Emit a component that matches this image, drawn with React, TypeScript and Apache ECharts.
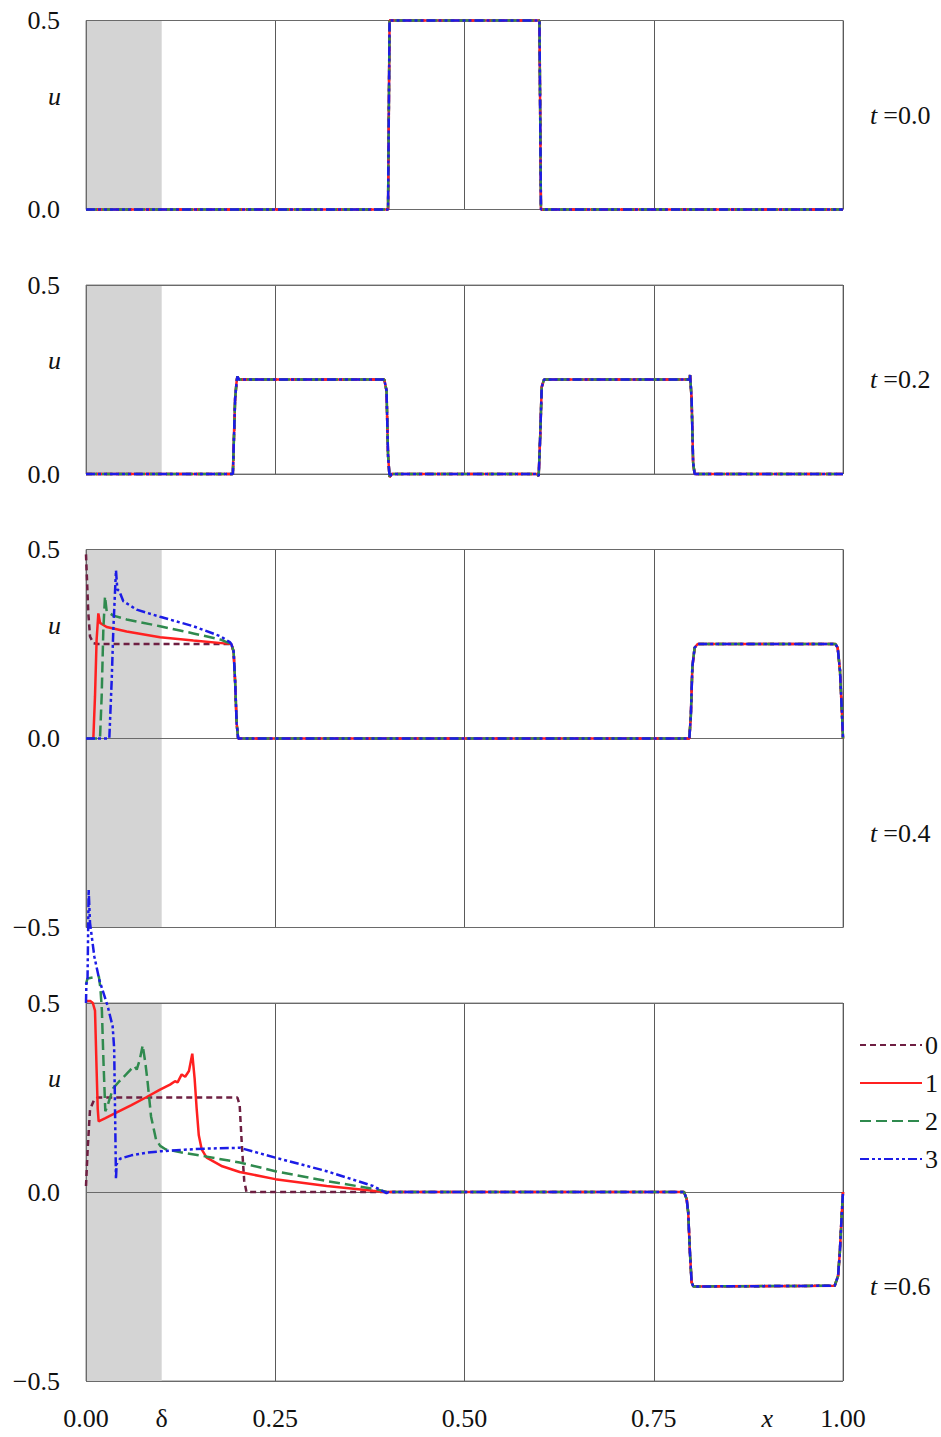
import React, { useEffect, useRef } from 'react';
import * as echarts from 'echarts';

type Pt = [number, number];

// ---------- labels / ticks ----------
const seriesNames = ['0', '1', '2', '3'];
const seriesColors = ['#6e1f42', '#ff2020', '#2f8a4e', '#1c1ce6'];
const seriesDashes: any[] = [[6, 4], 'solid', [11, 5], [9, 3, 3, 3, 3, 3]];

const timeLabels = ['0.0', '0.2', '0.4', '0.6'];
const xTickValues = [0, 0.1, 0.25, 0.5, 0.75, 0.9, 1.0];
const xTickLabels = ['0.00', 'δ', '0.25', '0.50', '0.75', 'x', '1.00'];
const deltaValue = 0.1;
const uLevel = 0.3;
const tLevels = [0.25, 0.25, -0.25, -0.25];
const yRanges: [number, number][] = [[0, 0.5], [0, 0.5], [-0.5, 0.5], [-0.5, 0.5]];
const yTickValues = [[0, 0.5], [0, 0.5], [-0.5, 0, 0.5], [-0.5, 0, 0.5]];
const yTickLabels = [['0.0', '0.5'], ['0.0', '0.5'], ['−0.5', '0.0', '0.5'], ['−0.5', '0.0', '0.5']];

// ---------- data ----------
// t = 0.0 (all schemes identical)
const t00: Pt[] = [[0, 0], [0.399, 0], [0.401, 0.5], [0.599, 0.5], [0.601, 0], [1, 0]];

// t = 0.2 (all schemes identical)
const t02: Pt[] = [
  [0, 0], [0.194, 0], [0.197, 0.2], [0.199, 0.245], [0.2, 0.258], [0.202, 0.25],
  [0.394, 0.25], [0.397, 0.22], [0.399, 0.05], [0.401, -0.008], [0.404, 0],
  [0.596, 0], [0.598, -0.005], [0.6, 0.1], [0.602, 0.23], [0.605, 0.25],
  [0.797, 0.25], [0.798, 0.262], [0.8, 0.2], [0.802, 0.03], [0.804, 0], [1, 0],
];

// t = 0.4
const t04Tail: Pt[] = [
  [0.192, 0.25], [0.195, 0.23], [0.197, 0.15], [0.199, 0.04], [0.201, 0],
  [0.797, 0], [0.799, 0.06], [0.801, 0.19], [0.804, 0.24], [0.808, 0.25],
  [0.99, 0.25], [0.993, 0.24], [0.996, 0.18], [0.999, 0.05], [1, 0],
];
const t04S0: Pt[] = [[0, 0.487], [0.003, 0.333], [0.0053, 0.27], [0.0097, 0.252], [0.015, 0.25]];
const t04S1: Pt[] = [
  [0, 0], [0.0097, 0], [0.0119, 0.112], [0.014, 0.26], [0.0163, 0.331], [0.0185, 0.306],
  [0.0273, 0.295], [0.0537, 0.283], [0.0978, 0.268], [0.1418, 0.259], [0.186, 0.251],
];
const t04S2: Pt[] = [
  [0, 0], [0.0185, 0], [0.0207, 0.112], [0.0229, 0.288], [0.0251, 0.376], [0.0273, 0.337],
  [0.0361, 0.325], [0.0537, 0.315], [0.0978, 0.297], [0.1418, 0.278], [0.177, 0.262],
];
const t04S3: Pt[] = [
  [0, 0], [0.0308, 0], [0.034, 0.157], [0.0361, 0.288], [0.0396, 0.445], [0.0414, 0.394],
  [0.044, 0.39], [0.0493, 0.363], [0.0669, 0.341], [0.0978, 0.322], [0.1418, 0.297],
  [0.177, 0.271], [0.19, 0.255],
];

// t = 0.6
const t06Tail: Pt[] = [
  [0.4, 0], [0.79, 0], [0.7935, -0.019], [0.7955, -0.054], [0.7978, -0.16], [0.8, -0.239],
  [0.8023, -0.25], [0.989, -0.248], [0.9935, -0.222], [0.9958, -0.16], [0.998, -0.072], [1, 0],
];
const t06S0: Pt[] = [
  [0, 0.016], [0.0022, 0.113], [0.0053, 0.218], [0.011, 0.245], [0.015, 0.25],
  [0.2, 0.25], [0.203, 0.23], [0.206, 0.12], [0.209, 0.03], [0.212, 0], [0.399, 0],
];
const t06S1: Pt[] = [
  [0, 0.505], [0.006, 0.505], [0.009, 0.5], [0.0119, 0.48], [0.014, 0.324], [0.0155, 0.22],
  [0.0167, 0.187], [0.025, 0.195], [0.04, 0.21], [0.06, 0.23], [0.079, 0.25], [0.0978, 0.271],
  [0.111, 0.284], [0.1176, 0.293], [0.121, 0.29], [0.1264, 0.311], [0.131, 0.305], [0.136, 0.32],
  [0.1404, 0.366], [0.1435, 0.3], [0.1462, 0.22], [0.149, 0.15], [0.1528, 0.113], [0.1594, 0.091],
  [0.18, 0.068], [0.203, 0.053], [0.25, 0.034], [0.318, 0.016], [0.379, 0.003], [0.395, 0],
];
const t06S2: Pt[] = [
  [0, 0.55], [0.002, 0.565], [0.017, 0.57], [0.019, 0.54], [0.021, 0.48], [0.023, 0.35],
  [0.0255, 0.214], [0.028, 0.225], [0.031, 0.245], [0.036, 0.275], [0.044, 0.293], [0.053, 0.311],
  [0.059, 0.324], [0.064, 0.333], [0.067, 0.324], [0.071, 0.35], [0.0749, 0.388], [0.0785, 0.34],
  [0.0815, 0.289], [0.0859, 0.2], [0.0925, 0.139], [0.098, 0.122], [0.105, 0.113], [0.125, 0.105],
  [0.155, 0.095], [0.203, 0.078], [0.25, 0.055], [0.318, 0.029], [0.384, 0.007], [0.398, 0],
];
const t06S3: Pt[] = [
  [0, 0.5], [0.0005, 0.55], [0.002, 0.56], [0.0035, 0.8], [0.0053, 0.712], [0.011, 0.623],
  [0.0176, 0.561], [0.0287, 0.491], [0.0352, 0.438], [0.0372, 0.38], [0.0385, 0.2], [0.0396, 0.034],
  [0.0405, 0.075], [0.045, 0.088], [0.06, 0.097], [0.08, 0.104], [0.1, 0.108], [0.13, 0.112],
  [0.16, 0.115], [0.203, 0.117], [0.25, 0.091], [0.318, 0.055], [0.379, 0.016], [0.397, -0.003],
];

const panelData: Pt[][][] = [
  [t00, t00, t00, t00],
  [t02, t02, t02, t02],
  [t04S0.concat(t04Tail), t04S1.concat(t04Tail), t04S2.concat(t04Tail), t04S3.concat(t04Tail)],
  [t06S0.concat(t06Tail), t06S1.concat(t06Tail), t06S2.concat(t06Tail), t06S3.concat(t06Tail)],
];

// ---------- component ----------
const FONT = '"Liberation Serif", "Times New Roman", serif';
const TEXT = '#111';
const FS = 26;

const pick = (vals: number[], labels: string[]) => (v: number) => {
  const i = vals.findIndex((t) => Math.abs(t - v) < 1e-6);
  return i >= 0 ? labels[i] : '';
};

export default function App() {
  const ref = useRef<HTMLDivElement>(null);

  useEffect(() => {
    if (!ref.current) return;
    const chart = echarts.init(ref.current, undefined, { renderer: 'svg' });

    const layout = [
      { top: 20.5, height: 189 },
      { top: 285, height: 189 },
      { top: 549.5, height: 378 },
      { top: 1003, height: 378 },
    ];
    const left = 86;
    const width = 757;

    const grid = layout.map((l) => ({
      left, width, top: l.top, height: l.height,
      show: true, borderColor: '#858585', borderWidth: 1, backgroundColor: '#fff',
    }));

    const xAxis: any[] = layout.map((_, p) => ({
      type: 'value', gridIndex: p, min: 0, max: 1, interval: 0.25,
      axisLine: { show: false }, axisTick: { show: false }, axisLabel: { show: false },
      splitLine: { show: true, lineStyle: { color: '#5a5a5a', width: 1 } },
    }));
    const xLab = pick(xTickValues, xTickLabels);
    xAxis.push({
      type: 'value', gridIndex: 3, position: 'bottom', min: 0, max: 1, interval: 0.05,
      axisLine: { show: false }, axisTick: { show: false }, splitLine: { show: false },
      axisLabel: {
        show: true, margin: 24, interval: 0, fontFamily: FONT, fontSize: FS, color: TEXT,
        formatter: (v: number) => {
          const s = xLab(v);
          return s === 'x' ? '{it|x}' : s;
        },
        rich: { it: { fontStyle: 'italic', fontFamily: FONT, fontSize: FS, color: TEXT } },
      },
    });

    const yAxis: any[] = [];
    layout.forEach((_, p) => {
      yAxis.push({
        type: 'value', gridIndex: p, position: 'left', min: yRanges[p][0], max: yRanges[p][1], interval: 0.5,
        axisLine: { show: false }, axisTick: { show: false }, splitLine: { show: false },
        axisLabel: {
          margin: 26, fontFamily: FONT, fontSize: FS, color: TEXT,
          formatter: pick(yTickValues[p], yTickLabels[p]),
        },
      });
    });
    layout.forEach((_, p) => {
      yAxis.push({
        type: 'value', gridIndex: p, position: 'left', min: yRanges[p][0], max: yRanges[p][1], interval: 0.1,
        axisLine: { show: false }, axisTick: { show: false }, splitLine: { show: false },
        axisLabel: {
          margin: 25, fontFamily: FONT, fontSize: FS, color: TEXT, fontStyle: 'italic',
          formatter: (v: number) => (Math.abs(v - uLevel) < 1e-6 ? 'u' : ''),
        },
      });
    });
    layout.forEach((_, p) => {
      yAxis.push({
        type: 'value', gridIndex: p, position: 'right', min: yRanges[p][0], max: yRanges[p][1], interval: 0.25,
        axisLine: { show: false }, axisTick: { show: false }, splitLine: { show: false },
        axisLabel: {
          margin: 27, fontFamily: FONT, fontSize: FS, color: TEXT,
          formatter: (v: number) => (Math.abs(v - tLevels[p]) < 1e-6 ? '{i|t}=' + timeLabels[p] : ''),
          rich: { i: { fontStyle: 'italic', fontFamily: FONT, fontSize: FS, color: TEXT, padding: [0, 6, 0, 0] } },
        },
      });
    });

    const series: any[] = [];
    layout.forEach((_, p) => {
      seriesNames.forEach((name, s) => {
        const item: any = {
          type: 'line', name, xAxisIndex: p, yAxisIndex: p,
          data: panelData[p][s], showSymbol: false, symbol: 'none', clip: false, z: 2 + s * 0.01,
          lineStyle: { color: seriesColors[s], width: 2.5, type: seriesDashes[s] },
          itemStyle: { color: seriesColors[s] },
        };
        if (s === 0) {
          item.markArea = {
            silent: true, z: 1,
            itemStyle: { color: '#d4d4d4' },
            data: [[{ xAxis: 0 }, { xAxis: deltaValue }]],
          };
          const lines: any[] = [{ xAxis: 0 }, { yAxis: yRanges[p][0] }, { yAxis: yRanges[p][1] }];
          if (yRanges[p][0] < 0) lines.push({ yAxis: 0 });
          item.markLine = {
            silent: true, z: 1.5, symbol: ['none', 'none'], label: { show: false },
            lineStyle: { color: '#6a6a6a', width: 1, type: 'solid' },
            data: lines,
          };
        }
        series.push(item);
      });
    });

    chart.setOption({
      animation: false,
      backgroundColor: '#fff',
      grid, xAxis, yAxis, series,
      legend: {
        show: true, data: seriesNames, orient: 'vertical', left: 854, top: 1027,
        itemWidth: 62, itemHeight: 14, itemGap: 12, selectedMode: false,
        itemStyle: { opacity: 0, borderWidth: 0 },
        textStyle: { fontFamily: FONT, fontSize: FS, color: TEXT, lineHeight: 26, padding: [0, 0, 0, -2] },
      },
    });

    return () => chart.dispose();
  }, []);

  return (
    <div
      ref={ref}
      style={{ position: 'absolute', left: 0, top: 0, width: 941, height: 1437 }}
    />
  );
}
